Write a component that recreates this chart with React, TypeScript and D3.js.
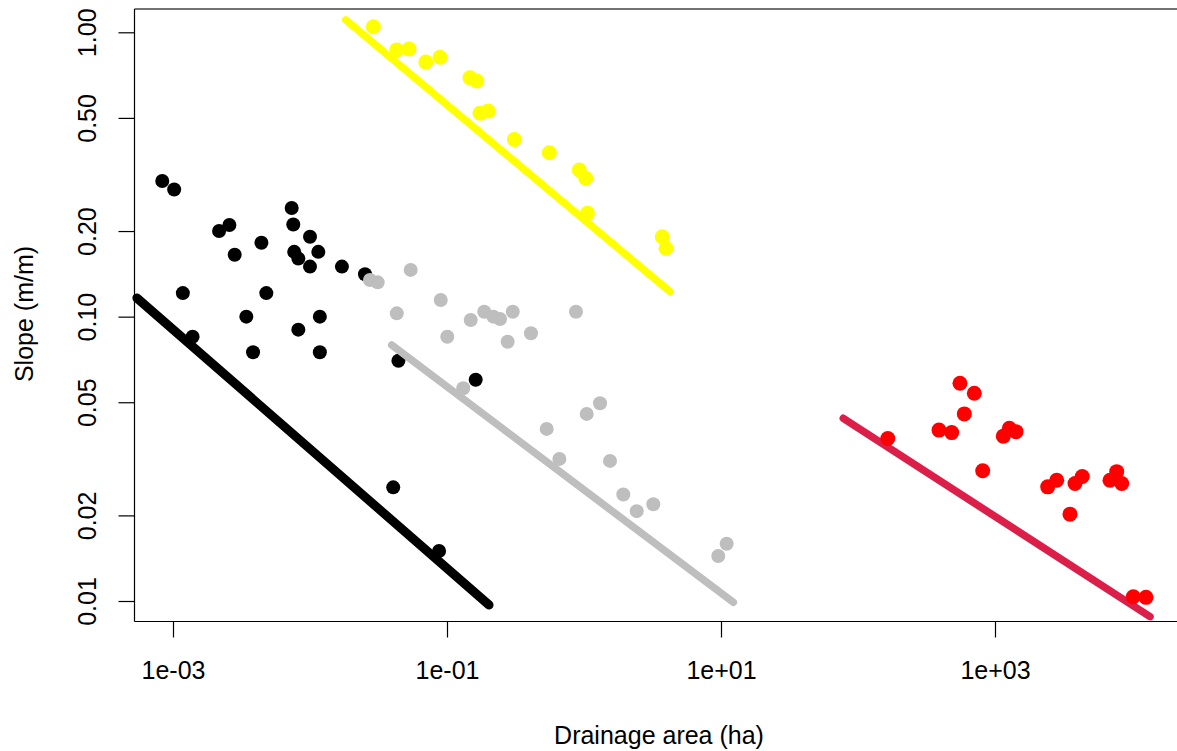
import React, { useEffect, useRef } from "react";
import * as d3 from "d3";

// ---------- data ----------
const blackArea = [8.35e-4, 1.02e-3, 2.17e-3, 2.58e-3, 2.82e-3, 4.42e-3, 7.35e-3, 7.55e-3, 0.0100, 7.67e-3, 8.22e-3, 0.0115, 0.0100, 0.0171, 0.0252, 1.18e-3, 4.80e-3, 3.43e-3, 0.0118, 8.22e-3, 1.39e-3, 3.84e-3, 0.0118, 0.0442, 0.162, 0.0405, 0.0875];
const blackSlope = [0.300, 0.280, 0.200, 0.210, 0.165, 0.182, 0.241, 0.211, 0.191, 0.169, 0.160, 0.169, 0.150, 0.150, 0.141, 0.121, 0.121, 0.100, 0.100, 0.090, 0.085, 0.075, 0.075, 0.070, 0.060, 0.0251, 0.0150];

const grayArea = [0.0274, 0.0312, 0.0543, 0.0430, 0.0900, 0.1005, 0.149, 0.187, 0.218, 0.244, 0.302, 0.277, 0.410, 0.874, 0.1315, 0.534, 0.661, 1.046, 1.309, 1.548, 1.936, 2.425, 3.205, 11.0, 9.55];
const graySlope = [0.1345, 0.132, 0.146, 0.1027, 0.1144, 0.085, 0.0973, 0.1041, 0.100, 0.0981, 0.1041, 0.0816, 0.0874, 0.1041, 0.056, 0.0403, 0.0316, 0.0455, 0.0496, 0.0311, 0.0237, 0.0207, 0.0219, 0.0159, 0.0144];

const yellowArea = [0.0290, 0.0430, 0.0528, 0.0700, 0.0889, 0.147, 0.165, 0.174, 0.200, 0.310, 0.558, 0.924, 1.03, 1.06, 3.73, 3.97];
const yellowSlope = [1.046, 0.867, 0.874, 0.786, 0.817, 0.692, 0.674, 0.519, 0.529, 0.420, 0.377, 0.328, 0.307, 0.231, 0.191, 0.174];

const redArea = [555, 706, 597, 390, 483, 165, 1150, 1272, 1423, 813, 2425, 2821, 3837, 4335, 3527, 6908, 7732, 8413, 10220, 12650];
const redSlope = [0.0583, 0.0538, 0.0455, 0.0399, 0.0391, 0.0373, 0.0380, 0.0405, 0.0394, 0.0287, 0.0252, 0.0266, 0.0259, 0.0274, 0.0202, 0.0266, 0.0285, 0.0259, 0.01035, 0.0103];

// fitted power-law lines: [area, slope] at both ends
const blackFit: [number, number][] = [[5.45e-4, 0.1163], [0.2028, 0.00968]];
const grayFit: [number, number][] = [[0.0395, 0.0795], [12.3, 0.00989]];
const yellowFit: [number, number][] = [[0.01823, 1.105], [4.244, 0.1224]];
const redFit: [number, number][] = [[78.1, 0.0439], [13530, 0.00881]];

const xTicks = [1e-3, 1e-1, 1e1, 1e3];
const xTickLabels = ["1e-03", "1e-01", "1e+01", "1e+03"];
const yTicks = [1, 0.5, 0.2, 0.1, 0.05, 0.02, 0.01];
const yTickLabels = ["1.00", "0.50", "0.20", "0.10", "0.05", "0.02", "0.01"];

const W = 1177;
const H = 751;
const FONT = "'Liberation Sans', Arial, sans-serif";
const LEFT = 134.5, TOP = 9, BOTTOM = 621.5;

export default function App() {
  const xAxisRef = useRef<SVGGElement>(null);
  const yAxisRef = useRef<SVGGElement>(null);

  const x = d3.scaleLog().domain([1e-3, 1e3]).range([173, 995]);
  const y = d3.scaleLog().domain([1, 0.01]).range([32.3, 601]);

  useEffect(() => {
    if (xAxisRef.current) {
      const g = d3.select(xAxisRef.current);
      g.call(
        d3.axisBottom(x).tickValues(xTicks).tickSize(16).tickSizeOuter(0)
          .tickFormat((_d, i) => xTickLabels[i])
      );
      g.select(".domain").remove();
      g.selectAll("line").attr("stroke", "#000").attr("stroke-width", 1.2);
      g.selectAll("text")
        .attr("y", 679 - BOTTOM).attr("dy", null)
        .attr("font-size", 25).attr("font-family", FONT).attr("fill", "#000");
    }
    if (yAxisRef.current) {
      const g = d3.select(yAxisRef.current);
      g.call(
        d3.axisLeft(y).tickValues(yTicks).tickSize(16).tickSizeOuter(0)
          .tickFormat((_d, i) => yTickLabels[i])
      );
      g.select(".domain").remove();
      g.selectAll("line").attr("stroke", "#000").attr("stroke-width", 1.2);
      g.selectAll("text")
        .attr("x", null).attr("dy", "0.36em")
        .attr("text-anchor", "middle")
        .attr("transform", `translate(${87 - LEFT},0) rotate(-90)`)
        .attr("font-size", 25).attr("font-family", FONT).attr("fill", "#000");
    }
  });

  const line = d3.line<[number, number]>().x((d) => x(d[0])).y((d) => y(d[1]));

  const pts = (areas: number[], slopes: number[], color: string, r: number) =>
    areas.map((a, i) => <circle key={i} cx={x(a)} cy={y(slopes[i])} r={r} fill={color} />);

  const fit = (d: [number, number][], color: string, w: number) => (
    <path d={line(d) || ""} stroke={color} strokeWidth={w} fill="none" strokeLinecap="round" />
  );

  return (
    <svg width={W} height={H} style={{ position: "absolute", left: 0, top: 0, background: "#fff" }}>
      <rect x={0} y={0} width={W} height={H} fill="#fff" />
      {/* box */}
      <line x1={LEFT} x2={W + 5} y1={TOP} y2={TOP} stroke="#444" strokeWidth={1.6} />
      <line x1={LEFT} x2={W + 5} y1={BOTTOM} y2={BOTTOM} stroke="#000" strokeWidth={1.2} />
      <line x1={LEFT} x2={LEFT} y1={TOP} y2={BOTTOM} stroke="#000" strokeWidth={1.2} />

      <g ref={xAxisRef} transform={`translate(0,${BOTTOM})`} />
      <g ref={yAxisRef} transform={`translate(${LEFT},0)`} />

      {pts(blackArea, blackSlope, "#000", 7)}
      {fit(blackFit, "#000", 9)}
      {pts(grayArea, graySlope, "#BEBEBE", 7)}
      {fit(grayFit, "#BEBEBE", 7.5)}
      {pts(yellowArea, yellowSlope, "#FFFF00", 7.5)}
      {fit(yellowFit, "#FFFF00", 7.5)}
      {fit(redFit, "#DC1F48", 7.5)}
      {pts(redArea, redSlope, "#FF0000", 7.5)}

      <text x={659} y={744} textAnchor="middle" fontSize={25} fontFamily={FONT} fill="#000">
        Drainage area (ha)
      </text>
      <text transform={`translate(33,314) rotate(-90)`} textAnchor="middle" fontSize={25} fontFamily={FONT} fill="#000">
        Slope (m/m)
      </text>
    </svg>
  );
}
